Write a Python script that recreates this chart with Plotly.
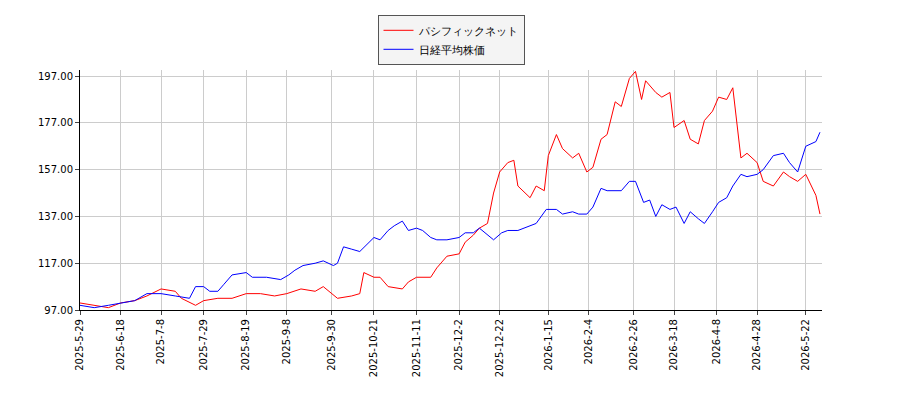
import plotly.graph_objects as go

red_dates = ['2025-05-29','2025-06-05','2025-06-12','2025-06-18','2025-06-25','2025-07-01','2025-07-08','2025-07-15','2025-07-18','2025-07-25',
'2025-07-29','2025-08-05','2025-08-12','2025-08-19','2025-08-26','2025-09-02','2025-09-08','2025-09-15','2025-09-22','2025-09-26',
'2025-09-30','2025-10-03','2025-10-10','2025-10-14','2025-10-16','2025-10-21','2025-10-24','2025-10-28','2025-11-04','2025-11-07',
'2025-11-11','2025-11-18','2025-11-21','2025-11-26','2025-12-02','2025-12-05','2025-12-09','2025-12-12','2025-12-16','2025-12-19',
'2025-12-22','2025-12-26','2025-12-29','2025-12-31','2026-01-06','2026-01-09','2026-01-13','2026-01-15','2026-01-19','2026-01-22',
'2026-01-27','2026-01-30','2026-02-03','2026-02-06','2026-02-10','2026-02-13','2026-02-17','2026-02-20','2026-02-24','2026-02-27',
'2026-03-02','2026-03-04','2026-03-09','2026-03-12','2026-03-16','2026-03-18','2026-03-23','2026-03-26','2026-03-30','2026-04-02',
'2026-04-06','2026-04-09','2026-04-13','2026-04-16','2026-04-20','2026-04-23','2026-04-28','2026-05-01','2026-05-06','2026-05-11',
'2026-05-14','2026-05-18','2026-05-22','2026-05-27','2026-05-29']
red_vals = [100,99,98,100,101,103,106,105,102,99,
101,102,102,104,104,103,104,106,105,107,
104,102,103,104,113,111,111,107,106,109,
111,111,115,120,121,126,129,132,134,147,
156,160,161,150,145,150,148,163,172,166,
162,164,156,158,170,172,186,184,196,199,
187,195,190,188,190,175,178,170,168,178,
182,188,187,192,162,164,160,152,150,156,
154,152,155,146,138]

blue_dates = ['2025-05-29','2025-06-05','2025-06-12','2025-06-18','2025-06-25','2025-07-01','2025-07-08','2025-07-15','2025-07-22','2025-07-25',
'2025-07-29','2025-08-01','2025-08-05','2025-08-08','2025-08-12','2025-08-19','2025-08-22','2025-08-29','2025-09-05','2025-09-09',
'2025-09-12','2025-09-16','2025-09-22','2025-09-26','2025-10-01','2025-10-03','2025-10-06','2025-10-10','2025-10-14','2025-10-21',
'2025-10-24','2025-10-28','2025-10-31','2025-11-04','2025-11-07','2025-11-11','2025-11-14','2025-11-18','2025-11-21','2025-11-26',
'2025-12-02','2025-12-05','2025-12-09','2025-12-12','2025-12-16','2025-12-19','2025-12-23','2025-12-26','2025-12-31','2026-01-06',
'2026-01-09','2026-01-14','2026-01-19','2026-01-22','2026-01-27','2026-01-30','2026-02-03','2026-02-06','2026-02-10','2026-02-13',
'2026-02-17','2026-02-20','2026-02-24','2026-02-27','2026-03-03','2026-03-06','2026-03-09','2026-03-12','2026-03-16','2026-03-19',
'2026-03-23','2026-03-26','2026-03-30','2026-04-02','2026-04-06','2026-04-09','2026-04-13','2026-04-16','2026-04-20','2026-04-23',
'2026-04-28','2026-05-01','2026-05-06','2026-05-11','2026-05-14','2026-05-18','2026-05-22','2026-05-27','2026-05-29']
blue_vals = [99,98,99,100,101,104,104,103,102,107,
107,105,105,108,112,113,111,111,110,112,
114,116,117,118,116,117,124,123,122,128,
127,131,133,135,131,132,131,128,127,127,
128,130,130,132,129,127,130,131,131,133,
134,140,140,138,139,138,138,141,149,148,
148,148,152,152,143,144,137,142,140,141,
134,139,136,134,139,143,145,150,155,154,
155,157,163,164,160,156,167,169,173]

tick_dates = ['2025-05-29','2025-06-18','2025-07-08','2025-07-29','2025-08-19','2025-09-08','2025-09-30',
              '2025-10-21','2025-11-11','2025-12-02','2025-12-22','2026-01-15','2026-02-04','2026-02-26',
              '2026-03-18','2026-04-08','2026-04-28','2026-05-22']
tick_text = ['2025-5-29','2025-6-18','2025-7-8','2025-7-29','2025-8-19','2025-9-8','2025-9-30',
             '2025-10-21','2025-11-11','2025-12-2','2025-12-22','2026-1-15','2026-2-4','2026-2-26',
             '2026-3-18','2026-4-8','2026-4-28','2026-5-22']

fig = go.Figure()
fig.add_trace(go.Scatter(x=red_dates, y=red_vals, mode='lines', name='パシフィックネット',
                         line=dict(color='red', width=1)))
fig.add_trace(go.Scatter(x=blue_dates, y=blue_vals, mode='lines', name='日経平均株価',
                         line=dict(color='blue', width=1)))

fig.update_layout(
    width=900, height=400, plot_bgcolor='white', paper_bgcolor='white',
    font=dict(family='DejaVu Sans', size=10, color='black'),
    margin=dict(l=72, r=86, t=62, b=98, autoexpand=False),
    legend=dict(x=0.5, y=1.23, xanchor='center', yanchor='top', bordercolor='#555', borderwidth=1,
                bgcolor='#f4f4f4', font=dict(size=11)),
    xaxis=dict(range=['2025-05-29', '2026-05-30'], tickvals=tick_dates, ticktext=tick_text,
               tickangle=-90, showgrid=True, gridcolor='#ccc', automargin=False,
               showline=True, linecolor='black', ticks='outside', ticklen=4),
    yaxis=dict(range=[97, 199.6], tickvals=[97, 117, 137, 157, 177, 197], tickformat='.2f',
               showgrid=True, gridcolor='#ccc', showline=True, linecolor='black', automargin=False,
               ticks='outside', ticklen=4),
)
fig.write_html("out.html")
